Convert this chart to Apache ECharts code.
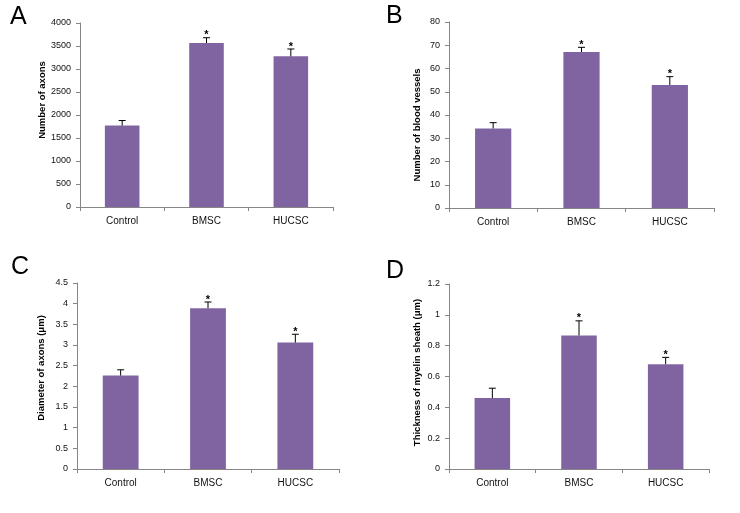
<!DOCTYPE html>
<html>
<head>
<meta charset="utf-8">
<script src="https://cdn.jsdelivr.net/npm/echarts@6/dist/echarts.min.js"></script>
<style>html,body{margin:0;padding:0;background:#fff}#c{width:740px;height:513px}</style>
</head>
<body>
<div id="c"></div>
<script>
const categories = ['Control', 'BMSC', 'HUCSC'];
const significance = ['', '*', '*'];

const axonsMean = [1770, 3565, 3275];
const axonsErr = [110, 115, 160];
const axonsTicks = { min: 0, max: 4000, interval: 500 };

const vesselsMean = [34.2, 67.1, 52.9];
const vesselsErr = [2.5, 2.0, 3.6];
const vesselsTicks = { min: 0, max: 80, interval: 10 };

const diameterMean = [2.26, 3.89, 3.06];
const diameterErr = [0.14, 0.15, 0.2];
const diameterTicks = { min: 0, max: 4.5, interval: 0.5 };

const thicknessMean = [0.46, 0.866, 0.68];
const thicknessErr = [0.064, 0.095, 0.044];
const thicknessTicks = { min: 0, max: 1.2, interval: 0.2 };

const panels = [
  { letter: 'A', name: 'Number of axons', mean: axonsMean, err: axonsErr, ticks: axonsTicks,
    grid: { left: 80, top: 23, width: 253, height: 184 }, lx: 10, ly: 5, gap: 31, shift: 15 },
  { letter: 'B', name: 'Number of blood vessels', mean: vesselsMean, err: vesselsErr, ticks: vesselsTicks,
    grid: { left: 449, top: 22, width: 265, height: 186 }, lx: 386, ly: 4, gap: 27, shift: -10 },
  { letter: 'C', name: 'Diameter of axons (\u03bcm)', mean: diameterMean, err: diameterErr, ticks: diameterTicks,
    grid: { left: 77, top: 283, width: 262, height: 186 }, lx: 11, ly: 255, gap: 31, shift: 8 },
  { letter: 'D', name: 'Thickness of myelin sheath (\u03bcm)', mean: thicknessMean, err: thicknessErr, ticks: thicknessTicks,
    grid: { left: 449, top: 284, width: 260, height: 185 }, lx: 386, ly: 259, gap: 27, shift: 4 }
];

const FONT = 'Liberation Sans, Arial, sans-serif';
const AXIS_COLOR = '#868686';
const BAR_COLOR = '#8064A2';

const grids = [], xAxes = [], yAxes = [], series = [], graphics = [];

panels.forEach((p, i) => {
  grids.push(Object.assign({ containLabel: false }, p.grid));
  xAxes.push({
    type: 'category', gridIndex: i, data: categories,
    axisLine: { lineStyle: { color: AXIS_COLOR, width: 1 } },
    axisTick: { show: true, length: 4, lineStyle: { color: AXIS_COLOR } },
    axisLabel: { color: '#111', fontSize: 10, fontFamily: FONT, margin: 9 },
    splitLine: { show: false }
  });
  const pad = p.shift >= 0 ? [0, 0, 0, 2 * p.shift] : [0, -2 * p.shift, 0, 0];
  yAxes.push({
    type: 'value', gridIndex: i, min: p.ticks.min, max: p.ticks.max, interval: p.ticks.interval,
    name: p.name, nameLocation: 'middle', nameGap: p.gap, nameRotate: 90,
    nameTextStyle: { color: '#000', fontSize: 9.5, fontWeight: 'bold', fontFamily: FONT, padding: pad },
    axisLine: { show: true, lineStyle: { color: AXIS_COLOR, width: 1 } },
    axisTick: { show: true, length: 4, lineStyle: { color: AXIS_COLOR } },
    axisLabel: { color: '#111', fontSize: 9, fontFamily: FONT, margin: 9, formatter: v => String(v) },
    splitLine: { show: false }
  });
  series.push({
    type: 'bar', xAxisIndex: i, yAxisIndex: i, data: p.mean, barWidth: '41%',
    itemStyle: { color: BAR_COLOR }, silent: true, animation: false
  });
  series.push({
    type: 'custom', xAxisIndex: i, yAxisIndex: i, silent: true, animation: false, z: 5,
    data: p.mean.map((m, k) => [k, m, p.err[k]]),
    encode: { x: 0, y: 1 },
    renderItem: function (params, api) {
      const x = api.value(0), m = api.value(1), e = api.value(2);
      const base = api.coord([x, m]);
      const top = api.coord([x, m + e]);
      const children = [
        { type: 'line', shape: { x1: base[0], y1: base[1], x2: top[0], y2: top[1] }, style: { stroke: '#000', lineWidth: 1 } },
        { type: 'line', shape: { x1: top[0] - 3.5, y1: top[1], x2: top[0] + 3.5, y2: top[1] }, style: { stroke: '#000', lineWidth: 1 } }
      ];
      const s = significance[params.dataIndex];
      if (s) {
        children.push({ type: 'text', style: { text: s, x: top[0], y: top[1] + 3, align: 'center', verticalAlign: 'bottom', fontSize: 11, fontWeight: 'bold', fontFamily: FONT, fill: '#000' } });
      }
      return { type: 'group', children: children };
    }
  });
  graphics.push({ type: 'text', left: p.lx, top: p.ly, style: { text: p.letter, fontSize: 25, fontFamily: FONT, fill: '#000' } });
});

const chart = echarts.init(document.getElementById('c'), null, { renderer: 'canvas' });
chart.setOption({
  backgroundColor: '#fff',
  animation: false,
  grid: grids, xAxis: xAxes, yAxis: yAxes, series: series, graphic: graphics
});
</script>
</body>
</html>
